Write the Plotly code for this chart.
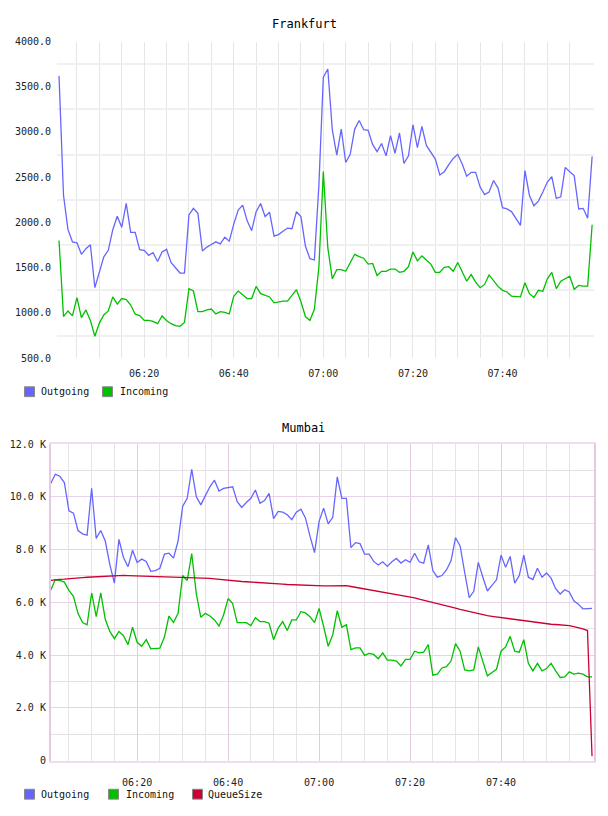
import plotly.graph_objects as go
import pandas as pd

W, H = 608, 816
DAY = "2024-01-01 "

# ---------------- data ----------------
times = pd.date_range(DAY + "06:01", periods=120, freq="min")

fra_outgoing = [3620, 2300, 1920, 1786, 1775, 1648, 1710, 1754, 1279, 1457,
                1620, 1692, 1920, 2069, 1946, 2210, 1891, 1891, 1699, 1692,
                1637, 1666, 1568, 1673, 1703, 1557, 1503, 1441, 1441, 2083,
                2156, 2101, 1685, 1728, 1757, 1786, 1764, 1837, 1793, 1982,
                2138, 2192, 2018, 1909, 2119, 2210, 2065, 2112, 1848, 1866,
                1902, 1938, 1931, 2119, 2065, 1740, 1600, 1585, 2400, 3605,
                3696, 3025, 2743, 3032, 2663, 2754, 3032, 3127, 3025, 3018,
                2862, 2783, 2873, 2736, 2960, 2765, 2989, 2652, 2736, 3080,
                2826, 3062, 2852, 2772, 2700, 2525, 2561, 2638, 2707, 2754,
                2645, 2511, 2554, 2554, 2391, 2308, 2337, 2464, 2380, 2163,
                2149, 2120, 2040, 1967, 2573, 2301, 2185, 2236, 2337, 2446,
                2507, 2265, 2283, 2609, 2561, 2518, 2149, 2156, 2047, 2729]

fra_incoming = [1801, 960, 1022, 967, 1170, 949, 1033, 917, 742, 888,
                978, 1022, 1177, 1098, 1159, 1148, 1087, 986, 971, 917,
                917, 906, 881, 967, 917, 881, 859, 852, 895, 1268,
                1242, 1014, 1014, 1033, 1043, 989, 1014, 1007, 989, 1185,
                1242, 1203, 1159, 1159, 1293, 1213, 1195, 1177, 1112, 1123,
                1130, 1130, 1195, 1257, 1123, 960, 917, 1040, 1500, 2562,
                1721, 1377, 1478, 1478, 1460, 1558, 1648, 1623, 1605, 1540,
                1547, 1413, 1460, 1460, 1485, 1485, 1449, 1460, 1511, 1674,
                1576, 1630, 1583, 1540, 1449, 1449, 1503, 1511, 1460, 1558,
                1456, 1351, 1424, 1340, 1279, 1315, 1420, 1351, 1293, 1250,
                1232, 1185, 1177, 1177, 1333, 1213, 1170, 1250, 1239, 1377,
                1449, 1268, 1351, 1377, 1406, 1261, 1304, 1297, 1297, 1975]

mum_outgoing = [10504, 10852, 10777, 10541, 9469, 9382, 8722, 8597, 8547, 10317,
                8423, 8722, 8323, 7426, 6728, 8386, 7700, 7351, 7974, 7513,
                7638, 7551, 7177, 7202, 7289, 7825, 7862, 7675, 8323, 9631,
                9943, 11040, 10006, 9694, 10043, 10379, 10628, 10217, 10317, 10342,
                10379, 9818, 9594, 9781, 9943, 10255, 9756, 9855, 10130, 9170,
                9444, 9419, 9320, 9133, 9419, 9532, 9200, 8510, 7887, 9071,
                9569, 8971, 9220, 10753, 9943, 9943, 8074, 8261, 8224, 7825,
                7825, 7551, 7414, 7538, 7364, 7538, 7663, 7488, 7613, 7513,
                7862, 7538, 7488, 8174, 7202, 6953, 7015, 7227, 7575, 8448,
                8137, 7140, 6180, 6417, 7513, 6953, 6429, 6641, 6853, 7787,
                7327, 7738, 6728, 7015, 7787, 6953, 6866, 7289, 6953, 7115,
                6915, 6517, 6317, 6480, 6392, 6056, 5931, 5750, 5770, 5770]

mum_incoming = [6455, 6853, 6828, 6766, 6455, 6231, 5582, 5233, 5147, 6355,
                5457, 6355, 5357, 4897, 4623, 4897, 4735, 4399, 5058, 4486,
                4336, 4586, 4237, 4262, 4262, 4685, 5482, 5233, 5582, 7016,
                6828, 7850, 6330, 5432, 5582, 5482, 5333, 5108, 5520, 6143,
                5956, 5233, 5233, 5233, 5121, 5420, 5270, 5270, 5208, 4586,
                5021, 5270, 4934, 5333, 5333, 5644, 5600, 5457, 5233, 5769,
                5084, 4336, 4773, 5682, 5058, 5147, 4212, 4274, 4274, 3988,
                4063, 4025, 3863, 4088, 3813, 3813, 3775, 3588, 3838, 3838,
                4149, 4088, 4112, 4399, 3240, 3278, 3514, 3563, 3775, 4436,
                4149, 3439, 3402, 3439, 4311, 3775, 3215, 3339, 3464, 4149,
                4311, 4710, 4149, 4112, 4586, 3688, 3402, 3688, 3402, 3489,
                3688, 3402, 3152, 3177, 3364, 3278, 3314, 3278, 3177, 3177]

mum_queue = [6830, 6860, 6870, 6880, 6900, 6910, 6920, 6940, 6950, 6960,
             6980, 6990, 7000, 7010, 7015, 7020, 7020, 7015, 7010, 7000,
             6990, 6985, 6990, 6990, 6990, 6985, 6980, 6975, 6965, 6955,
             6950, 6945, 6935, 6930, 6920, 6910, 6890, 6870, 6850, 6830,
             6815, 6800, 6790, 6780, 6770, 6765, 6760, 6755, 6740, 6725,
             6710, 6690, 6675, 6665, 6655, 6645, 6640, 6630, 6625, 6620,
             6620, 6620, 6625, 6630, 6635, 6630, 6600, 6570, 6530, 6500,
             6470, 6440, 6415, 6390, 6365, 6335, 6305, 6270, 6240, 6205,
             6165, 6125, 6085, 6045, 6000, 5960, 5920, 5880, 5830, 5780,
             5730, 5690, 5645, 5600, 5565, 5530, 5495, 5470, 5445, 5420,
             5400, 5375, 5350, 5330, 5305, 5280, 5255, 5235, 5210, 5185,
             5170, 5160, 5150, 5145, 5120, 5080, 5040, 4990, 4930, 170]

top_titles = ["Frankfurt", "Mumbai"]
series_names_top = ["Outgoing", "Incoming"]
series_names_bottom = ["Outgoing", "Incoming", "QueueSize"]
top_yticks = [500, 1000, 1500, 2000, 2500, 3000, 3500, 4000]
top_ygrid = [750, 1250, 1750, 2250, 2750, 3250, 3750]
bot_yticks = [0, 2000, 4000, 6000, 8000, 10000, 12000]
bot_yticklabels = ["0", "2.0 K", "4.0 K", "6.0 K", "8.0 K", "10.0 K", "12.0 K"]

C_OUT = "#6666ff"
C_IN = "#00c000"
C_Q = "#cc0033"

major_x = pd.date_range(DAY + "06:20", DAY + "07:40", freq="20min")
minor_x = pd.date_range(DAY + "06:05", DAY + "07:55", freq="5min")

FONT = "DejaVu Sans Mono"


def px(x):
    return x / W


def py(y):
    return 1 - y / H


fig = go.Figure()

fig.add_trace(go.Scatter(x=times, y=fra_outgoing, name="Outgoing", mode="lines",
                         line=dict(color=C_OUT, width=1.3), xaxis="x", yaxis="y"))
fig.add_trace(go.Scatter(x=times, y=fra_incoming, name="Incoming", mode="lines",
                         line=dict(color=C_IN, width=1.3), xaxis="x", yaxis="y"))
fig.add_trace(go.Scatter(x=times, y=mum_outgoing, name="Outgoing", mode="lines",
                         line=dict(color=C_OUT, width=1.3), xaxis="x2", yaxis="y2"))
fig.add_trace(go.Scatter(x=times, y=mum_incoming, name="Incoming", mode="lines",
                         line=dict(color=C_IN, width=1.3), xaxis="x2", yaxis="y2"))
fig.add_trace(go.Scatter(x=times, y=mum_queue, name="QueueSize", mode="lines",
                         line=dict(color=C_Q, width=1.3), xaxis="x2", yaxis="y2"))

tickfont = dict(family=FONT, size=10, color="#222")

fig.update_layout(
    width=W, height=H, margin=dict(l=0, r=0, t=0, b=0),
    paper_bgcolor="white", plot_bgcolor="white", showlegend=False,
    xaxis=dict(domain=[px(57), px(594)], anchor="y", type="date",
               range=[DAY + "06:00:33", DAY + "08:00:25"],
               tickmode="array", tickvals=list(major_x), tickformat="%H:%M",
               showgrid=True, gridcolor="#e6e6e6", gridwidth=1,
               minor=dict(tickmode="array", tickvals=list(minor_x), showgrid=True,
                          gridcolor="#e6e6e6", gridwidth=1),
               ticks="", showline=False, zeroline=False, tickfont=tickfont,
               ticklabelstandoff=8),
    yaxis=dict(domain=[py(358), py(37)], anchor="x", range=[500, 4000],
               tickmode="array", tickvals=top_yticks, tickformat=".1f",
               showgrid=False,
               minor=dict(tickmode="array", tickvals=top_ygrid, showgrid=True,
                          gridcolor="#f0f0f0", gridwidth=2),
               ticks="", showline=False, zeroline=False, tickfont=tickfont,
               ticklabelstandoff=5),
    xaxis2=dict(domain=[px(50.7), px(594)], anchor="y2", type="date",
                range=[DAY + "06:01:00", DAY + "08:00:26"],
                tickmode="array", tickvals=list(major_x), tickformat="%H:%M",
                showgrid=True, gridcolor="#e2cce2", gridwidth=1,
                minor=dict(tickmode="array", tickvals=list(minor_x), showgrid=True,
                           gridcolor="#e6e2e6", gridwidth=1),
                ticks="", showline=True, mirror=True, linecolor="#f0dcf0", linewidth=2,
                zeroline=False, tickfont=tickfont, ticklabelstandoff=11),
    yaxis2=dict(domain=[py(766), py(445)], anchor="x2", range=[0, 12000],
                tickmode="array", tickvals=bot_yticks, ticktext=bot_yticklabels,
                showgrid=True, gridcolor="#e8d2e8", gridwidth=1,
                minor=dict(dtick=1000, tick0=0, showgrid=True,
                           gridcolor="#e4e0e4", gridwidth=1),
                ticks="", showline=True, mirror=True, linecolor="#e4c8e4", linewidth=1.5,
                zeroline=False, tickfont=tickfont, ticklabelstandoff=1),
)

annotations = [
    dict(text=top_titles[0], x=px(304), y=py(19), xref="paper", yref="paper",
         showarrow=False, xanchor="center", yanchor="middle",
         font=dict(family=FONT, size=12, color="#000")),
    dict(text=top_titles[1], x=px(303), y=py(429), xref="paper", yref="paper",
         showarrow=False, xanchor="center", yanchor="middle",
         font=dict(family=FONT, size=12, color="#000")),
]
shapes = []


def legend_item(name, color, sx, tx, cy):
    shapes.append(dict(type="rect", xref="paper", yref="paper",
                       x0=px(sx), x1=px(sx + 10), y0=py(cy + 5), y1=py(cy - 5),
                       fillcolor=color, line=dict(color="#888888", width=1)))
    annotations.append(dict(text=name, x=px(tx), y=py(cy), xref="paper", yref="paper",
                            showarrow=False, xanchor="left", yanchor="middle",
                            font=dict(family=FONT, size=10, color="#111")))


legend_item(series_names_top[0], C_OUT, 24.5, 39, 392)
legend_item(series_names_top[1], C_IN, 102.5, 117.5, 392)
legend_item(series_names_bottom[0], C_OUT, 24.5, 39, 800)
legend_item(series_names_bottom[1], C_IN, 108.5, 123.5, 800)
legend_item(series_names_bottom[2], C_Q, 192.5, 206, 800)

fig.update_layout(annotations=annotations, shapes=shapes)

fig.write_html("out.html")
